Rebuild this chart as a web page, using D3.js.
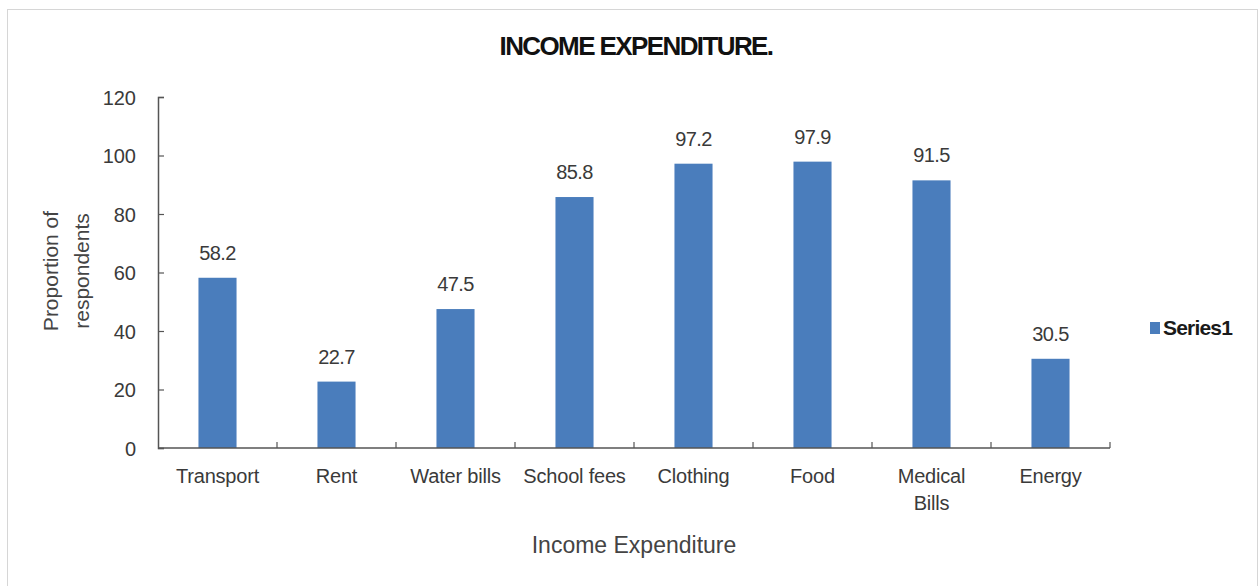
<!DOCTYPE html>
<html>
<head>
<meta charset="utf-8">
<script src="https://cdn.jsdelivr.net/npm/d3@7"></script>
<style>
  html, body { margin: 0; padding: 0; background: #fff; }
  svg { display: block; font-family: "Liberation Sans", Arial, sans-serif; }
</style>
</head>
<body>
<svg id="chart" width="1260" height="586"></svg>
<script>
const categories = ["Transport", "Rent", "Water bills", "School fees", "Clothing", "Food", "Medical Bills", "Energy"];
const categoryLines = [["Transport"], ["Rent"], ["Water bills"], ["School fees"], ["Clothing"], ["Food"], ["Medical", "Bills"], ["Energy"]];
const values = [58.2, 22.7, 47.5, 85.8, 97.2, 97.9, 91.5, 30.5];
const yTicks = [0, 20, 40, 60, 80, 100, 120];
const seriesName = "Series1";
const chartTitle = "INCOME EXPENDITURE.";
const xTitle = "Income Expenditure";
const yTitleLines = ["Proportion of", "respondents"];

const svg = d3.select("#chart");
const M = { left: 158, right: 1110, top: 97, bottom: 448 };
const barColor = "#4a7dbc";
const axisColor = "#555";
const textColor = "#3a3a3a";

// outer frame
svg.append("rect").attr("x", 7.5).attr("y", 9.5).attr("width", 1250).attr("height", 590)
  .attr("fill", "none").attr("stroke", "#d6d6d6").attr("stroke-width", 1);

const y = d3.scaleLinear().domain([0, 120]).range([M.bottom, M.top]);
const xBand = d3.scaleBand().domain(categories).range([M.left, M.right]).paddingInner(0.68).paddingOuter(0.34);
const xCell = d3.scaleBand().domain(categories).range([M.left, M.right]).padding(0);

// title
svg.append("text").attr("x", 636).attr("y", 55).attr("text-anchor", "middle")
  .attr("font-size", 26).attr("font-weight", "bold").attr("letter-spacing", -1.6)
  .attr("fill", "#111").text(chartTitle);

// y axis
const yAxis = d3.axisLeft(y).tickValues(yTicks).tickSize(-6).tickPadding(22);
const gy = svg.append("g").attr("transform", `translate(${M.left},0)`).call(yAxis);
gy.select(".domain").attr("stroke", axisColor).attr("stroke-width", 1.5);
gy.selectAll(".tick line").attr("stroke", axisColor).attr("stroke-width", 1.2);
gy.selectAll(".tick text").attr("font-size", 20).attr("fill", textColor)
  .attr("font-family", "'Liberation Sans', Arial, sans-serif").attr("dy", "0.35em");

// bars
svg.append("g").selectAll("rect").data(values).join("rect")
  .attr("x", (d, i) => xBand(categories[i]))
  .attr("width", xBand.bandwidth())
  .attr("y", d => y(d))
  .attr("height", d => y(0) - y(d))
  .attr("fill", barColor);

// value labels
svg.append("g").selectAll("text").data(values).join("text")
  .attr("x", (d, i) => xBand(categories[i]) + xBand.bandwidth() / 2)
  .attr("y", d => y(d) - 18)
  .attr("text-anchor", "middle").attr("font-size", 20).attr("letter-spacing", -0.6)
  .attr("fill", textColor).text(d => d.toFixed(1));

// x axis line & boundary ticks
svg.append("line").attr("x1", M.left).attr("x2", M.right).attr("y1", y(0)).attr("y2", y(0))
  .attr("stroke", axisColor).attr("stroke-width", 1.5);
svg.append("g").selectAll("line").data(categories.slice(1).concat(["__end"])).join("line")
  .attr("x1", d => d === "__end" ? M.right : xCell(d))
  .attr("x2", d => d === "__end" ? M.right : xCell(d))
  .attr("y1", y(0)).attr("y2", y(0) - 6)
  .attr("stroke", axisColor).attr("stroke-width", 1.2);

// x category labels
const xl = svg.append("g").selectAll("text").data(categoryLines).join("text")
  .attr("x", (d, i) => xCell(categories[i]) + xCell.bandwidth() / 2)
  .attr("y", 483).attr("text-anchor", "middle").attr("font-size", 20).attr("letter-spacing", -0.2)
  .attr("fill", textColor);
xl.selectAll("tspan").data(d => d).join("tspan")
  .attr("x", function () { return d3.select(this.parentNode).attr("x"); })
  .attr("dy", (d, i) => i === 0 ? 0 : 27).text(d => d);

// x axis title
svg.append("text").attr("x", 634).attr("y", 553).attr("text-anchor", "middle")
  .attr("font-size", 23).attr("fill", "#444").text(xTitle);

// y axis title
const yt = svg.append("text").attr("transform", "translate(58,271) rotate(-90)")
  .attr("text-anchor", "middle").attr("font-size", 21).attr("fill", "#444");
yt.selectAll("tspan").data(yTitleLines).join("tspan")
  .attr("x", 0).attr("dy", (d, i) => i === 0 ? 0 : 31).text(d => d);

// legend
svg.append("rect").attr("x", 1150).attr("y", 322).attr("width", 10).attr("height", 12).attr("fill", barColor);
svg.append("text").attr("x", 1163).attr("y", 335).attr("font-size", 21).attr("font-weight", "bold")
  .attr("letter-spacing", -0.8).attr("fill", "#1a1a1a").text(seriesName);
</script>
</body>
</html>
